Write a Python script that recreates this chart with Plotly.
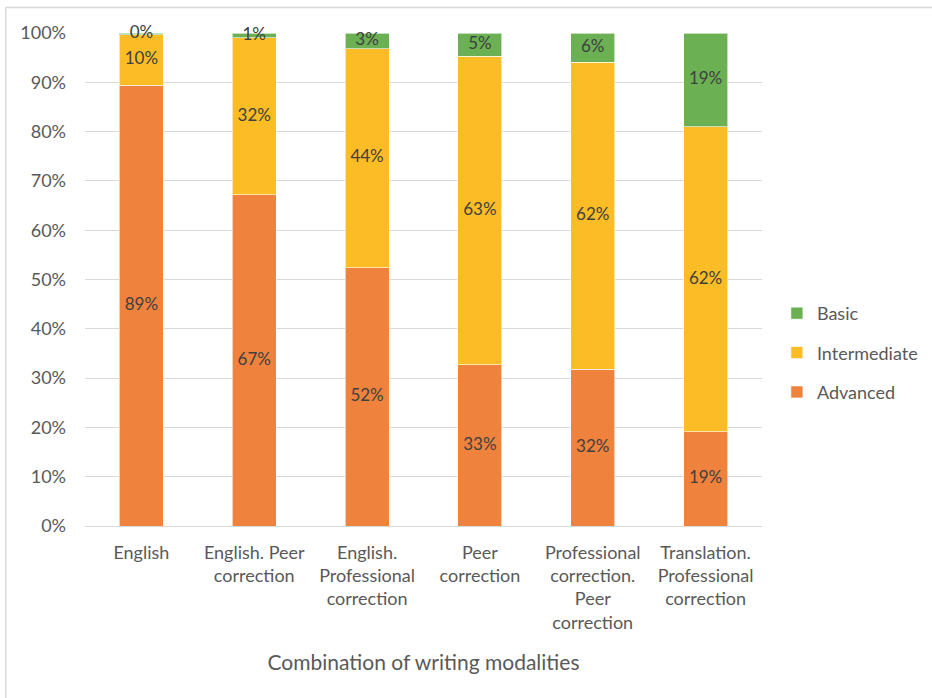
import plotly.graph_objects as go

categories = [
    "English",
    "English. Peer<br>correction",
    "English.<br>Professional<br>correction",
    "Peer<br>correction",
    "Professional<br>correction.<br>Peer<br>correction",
    "Translation.<br>Professional<br>correction",
]
advanced = [89.4, 67.2, 52.4, 32.7, 31.8, 19.1]
intermediate = [10.2, 31.8, 44.4, 62.6, 62.3, 61.9]
basic = [0.4, 1.0, 3.2, 4.7, 5.9, 19.0]
y_ticks = [0, 10, 20, 30, 40, 50, 60, 70, 80, 90, 100]
y_tick_labels = [f"{v}%" for v in y_ticks]

series = [
    ("Advanced", advanced, "#EF823D", 3),
    ("Intermediate", intermediate, "#FBBC25", 2),
    ("Basic", basic, "#6BB052", 1),
]

FONT = "Lato"
TXT = "#595959"
fig = go.Figure()
base = [0.0] * len(categories)
for name, vals, color, rank in series:
    fig.add_trace(go.Bar(
        x=categories, y=vals, name=name,
        marker=dict(color=color, line=dict(color="rgba(255,255,255,0.6)", width=1)),
        legendrank=rank, legendgroup=name,
    ))
    mids = [b + v / 2 for b, v in zip(base, vals)]
    fig.add_trace(go.Scatter(
        x=categories, y=mids, mode="text",
        text=[f"{round(v)}%" for v in vals],
        textposition="middle center",
        textfont=dict(family=FONT, size=17, color="#404040"),
        showlegend=False, hoverinfo="skip", cliponaxis=False,
    ))
    base = [b + v for b, v in zip(base, vals)]

fig.update_layout(
    barmode="stack",
    width=932, height=698,
    margin=dict(l=85, r=170, t=33, b=172, autoexpand=False),
    paper_bgcolor="white", plot_bgcolor="white",
    bargap=0.61,
    font=dict(family=FONT, size=18, color=TXT),
    legend=dict(
        x=1.022, y=0.351, xanchor="left", yanchor="middle",
        traceorder="grouped", tracegroupgap=13,
        font=dict(family=FONT, size=18, color=TXT),
        itemwidth=30,
    ),
    shapes=[dict(
        type="rect", xref="paper", yref="paper",
        x0=-0.117, x1=1.4, y0=-0.5, y1=1.0517,
        line=dict(color="#D9D9D9", width=1.5), fillcolor="rgba(0,0,0,0)",
        layer="below",
    )],
)
fig.update_yaxes(
    range=[0, 100], tickvals=y_ticks, ticktext=y_tick_labels,
    showgrid=True, gridcolor="#D9D9D9", gridwidth=1,
    zeroline=False, showline=False, ticklabelstandoff=18,
    tickfont=dict(family=FONT, size=18, color=TXT),
)
fig.update_xaxes(
    showline=True, linecolor="#D9D9D9", linewidth=1,
    tickfont=dict(family=FONT, size=18, color=TXT),
    ticklabelstandoff=10,
    title=dict(text="Combination of writing modalities",
               font=dict(family=FONT, size=21, color=TXT), standoff=23),
)

fig.write_html("out.html")
